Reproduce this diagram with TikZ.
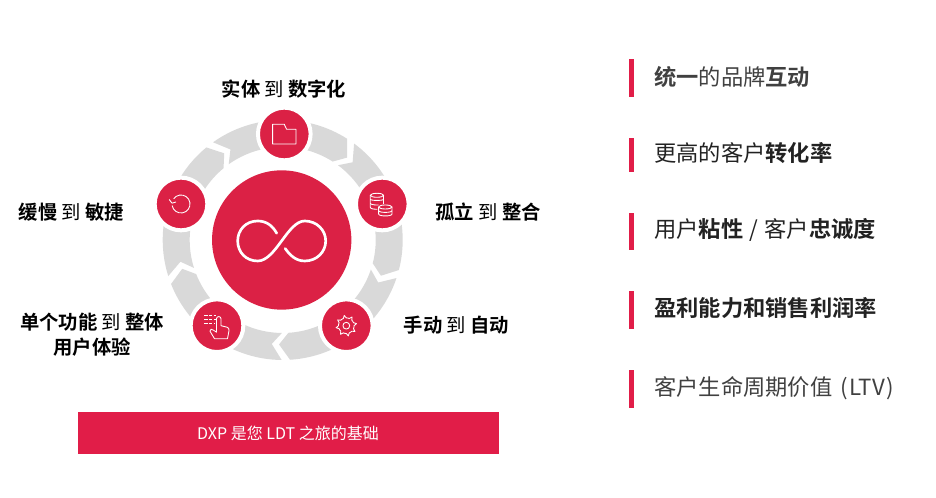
\documentclass[tikz,border=0pt]{standalone}
\usepackage{fontspec}
\setmainfont{Noto Sans CJK SC}[BoldFont={Noto Sans CJK SC Bold}]
\definecolor{crim}{HTML}{DB2145}
\definecolor{barred}{HTML}{E11D48}
\definecolor{ringgray}{HTML}{D9D9D9}
\definecolor{txt}{HTML}{222222}
\definecolor{txtsoft}{HTML}{404040}
\tikzset{
  hub/.style={circle,fill=crim,draw=white,line width=3pt,minimum size=39.5pt,inner sep=0pt},
  core/.style={circle,fill=crim,minimum size=104.5pt,inner sep=0pt},
  lab/.style={font=\fontsize{14.5pt}{18.5pt}\selectfont,text=black,align=center,inner sep=0pt},
  item/.style={font=\fontsize{16.7pt}{20pt}\selectfont,text=txt,anchor=west,inner sep=0pt},
  tick/.style={fill=barred,draw=none},
  icon/.style={draw=white,line width=0.65pt,fill=none,line join=round},
}
\begin{document}
\begin{tikzpicture}[x=0.75pt,y=0.75pt]
\useasboundingbox (0,0) rectangle (936,498);
\begin{scope}[shift={(282.7,258)}]
\foreach \a in {57.5,-14.5,-86.5,-158.5,-230.5}{
  \pgfmathsetmacro{\b}{\a+68}
  \pgfmathsetmacro{\n}{\a+62.5}
  \pgfmathsetmacro{\t}{\a-5.5}
  \fill[ringgray] (\b:90pt) -- (\n:78.4pt) -- (\b:69.75pt)
    arc[start angle=\b,end angle=\a,radius=69.75pt]
    -- (\t:78.4pt) -- (\a:90pt)
    arc[start angle=\a,end angle=\b,radius=90pt] -- cycle;
}
\end{scope}
\node[core] (c) at (281.7,258) {};
\node[hub] (h1) at (284.3,364) {};
\node[hub] (h2) at (382.3,294) {};
\node[hub] (h3) at (346.3,172.3) {};
\node[hub] (h4) at (217,172.3) {};
\node[hub] (h5) at (181,294) {};
% infinity
\begin{scope}[shift={(c.center)}]
\draw[white,line width=2pt,line cap=round] (-5,6.7) .. controls (-9,14) and (-15,19) .. (-24,19)
 .. controls (-36,19) and (-44,10) .. (-44,-1) .. controls (-44,-12) and (-36,-21) .. (-24,-21)
 .. controls (-6,-21) and (6,19) .. (23,19) .. controls (35,19) and (44,10) .. (44,-1)
 .. controls (44,-12) and (35,-21) .. (23,-21) .. controls (14,-21) and (8,-15) .. (3.5,-8.5);
\end{scope}
% folder
\begin{scope}[shift={(h1.center)}]
\draw[icon] (-11.7,9.7) -- (0,9.7) -- (2.3,4.7) -- (11.7,4.7) -- (11.7,-10) -- (-11.7,-10) -- cycle;
\end{scope}
% coins
\begin{scope}[shift={(h2.center)}]
\draw[icon] (-5.35,8.7) ellipse [x radius=6.65,y radius=2];
\draw[icon] (-12,8.7) -- (-12,-3.3) .. controls (-12,-4.6) and (-9,-5.3) .. (-5,-5.3);
\draw[icon] (1.3,8.7) -- (1.3,-0.5);
\draw[icon] (-12,4.7) .. controls (-12,3.2) and (1.3,3.2) .. (1.3,4.7);
\draw[icon] (-12,0.7) .. controls (-12,-0.8) and (-6,-1.2) .. (-3.7,-1);
\draw[icon] (3,-3) ellipse [x radius=6.7,y radius=2];
\draw[icon] (-3.7,-3) -- (-3.7,-10) .. controls (-3.7,-12.6) and (9.7,-12.6) .. (9.7,-10) -- (9.7,-3);
\draw[icon] (-3.7,-6.6) .. controls (-3.7,-9) and (9.7,-9) .. (9.7,-6.6);
\end{scope}
% gear
\begin{scope}[shift={(h3.center)}]
\draw[icon] plot[samples at={0,11.25,...,348.75},variable=\q] ({(7.8+2.6*(cos(8*\q)>0))*cos(\q+11.25)},{(7.8+2.6*(cos(8*\q)>0))*sin(\q+11.25)}) -- cycle;
\draw[icon] (0,0) circle [radius=3.4];
\end{scope}
% hand
\begin{scope}[shift={(h4.center)}]
\draw[icon,dash pattern=on 2.6pt off 0.9pt] (-12.7,10.7) -- (-1,10.7);
\draw[icon,dash pattern=on 2.6pt off 0.9pt] (-12.7,6.3) -- (-1,6.3);
\draw[icon,dash pattern=on 2.6pt off 0.9pt] (-12.7,2.3) -- (-3,2.3);
\draw[icon] (-2.5,-13) -- (-7,-5.5) .. controls (-7.5,-3.2) and (-5,-3) .. (-3.5,-4.5) -- (-0.5,-6.5) -- (-0.5,7)
 .. controls (-0.5,9.8) and (4,9.8) .. (4,7) -- (4,0) -- (10,-1.5) .. controls (11.8,-2) and (12,-3) .. (12,-5) -- (10.5,-13) -- cycle;
\end{scope}
% undo
\begin{scope}[shift={(h5.center)}]
\draw[icon] (190:6.75pt) arc[start angle=190,end angle=505,radius=9];
\draw[icon] (-11.8,4.5) -- (-9,0.8) -- (-5,2);
\end{scope}
\node[lab] (l1) at (284,408.5) {\textbf{实体} 到 \textbf{数字化}};
\node[lab] (l2) at (488,286) {\textbf{孤立} 到 \textbf{整合}};
\node[lab] (l3) at (456.5,173) {\textbf{手动} 到 \textbf{自动}};
\node[lab] (l4) at (92,163) {\textbf{单个功能} 到 \textbf{整体}\\\textbf{用户体验}};
\node[lab] (l5) at (71.5,286) {\textbf{缓慢} 到 \textbf{敏捷}};
\node[fill=barred,minimum width=315.75pt,minimum height=31.5pt,inner sep=0pt,text=white,font=\fontsize{12pt}{14pt}\selectfont] (b) at (288,65) {DXP 是您 LDT 之旅的基础};
\foreach \y/\h in {419.5/19,343/17,266.5/18.5,188/19,109/19}{\fill[tick] (628.5,\y-\h) rectangle (633.5,\y+\h);}
\node[item,text=txtsoft] (i1) at (654,421) {\textbf{统一}的品牌\textbf{互动}};
\node[item] (i2) at (654,345) {更高的客户\textbf{转化率}};
\node[item] (i3) at (654,268) {用户\textbf{粘性}\hspace{1pt} / \hspace{1pt}客户\textbf{忠诚度}};
\node[item] (i4) at (654,190) {\textbf{盈利能力和销售利润率}};
\node[item,text=txtsoft] (i5) at (654,110) {客户生命周期价值\hspace{2pt} (\hspace{1.5pt}LTV\hspace{1.5pt})};
\end{tikzpicture}
\end{document}
